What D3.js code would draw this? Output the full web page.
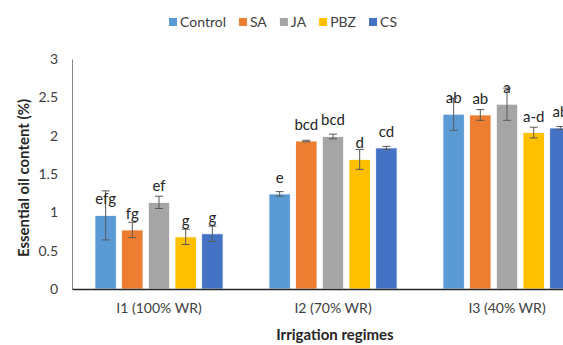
<!DOCTYPE html>
<html>
<head>
<meta charset="utf-8">
<script src="https://cdn.jsdelivr.net/npm/d3@7"></script>
<style>
  body { margin: 0; background: #fff; }
  text { font-family: Lato, "Open Sans", sans-serif; }
</style>
</head>
<body>
<svg width="563" height="345"></svg>
<script>
// data
const regimes = ["I1 (100% WR)", "I2 (70% WR)", "I3 (40% WR)"];
const treatments = ["Control", "SA", "JA", "PBZ", "CS"];
const colors = ["#5b9bd5", "#ed7d31", "#a5a5a5", "#ffc000", "#4472c4"];
const yTicks = [0, 0.5, 1, 1.5, 2, 2.5, 3];

// rows = regime, cols = treatment
const means = [
  [0.96, 0.77, 1.13, 0.68, 0.72],
  [1.24, 1.93, 1.99, 1.69, 1.84],
  [2.28, 2.27, 2.41, 2.04, 2.10]
];
const errs = [
  [0.32, 0.10, 0.08, 0.10, 0.10],
  [0.03, 0.01, 0.03, 0.13, 0.02],
  [0.21, 0.07, 0.21, 0.07, 0.02]
];
const letters = [
  ["efg", "fg", "ef", "g", "g"],
  ["e", "bcd", "bcd", "d", "cd"],
  ["ab", "ab", "a", "a-d", "ab"]
];

const svg = d3.select("svg");
const mLeft = 72, mTop = 59, mBottom = 289;

const y = d3.scaleLinear().domain([0, 3]).range([mBottom, mTop]);

// the right group runs off the edge of the picture
const x0 = d3.scaleBand().domain(regimes).range([mLeft, mLeft + 3 * 174]);
const x1 = d3.scaleBand()
  .domain(treatments)
  .range([0, x0.bandwidth()])
  .paddingInner(0.2)
  .paddingOuter(0.86);

// y axis labels
const yAxis = svg.append("g")
  .attr("transform", `translate(${mLeft},0)`)
  .call(d3.axisLeft(y).tickValues(yTicks).tickSize(0).tickPadding(14).tickFormat(d3.format("")));
yAxis.select(".domain").attr("stroke", "#868686");
yAxis.selectAll("text").attr("font-size", 14).attr("fill", "#404040").attr("font-family", "Lato");

// bars
const rows = [];
regimes.forEach((r, i) => treatments.forEach((t, j) => {
  rows.push({ r, t, j, v: means[i][j], e: errs[i][j], lab: letters[i][j] });
}));

const g = svg.append("g");
g.selectAll("rect")
  .data(rows)
  .enter()
  .append("rect")
  .attr("x", (d) => x0(d.r) + x1(d.t))
  .attr("y", (d) => y(d.v))
  .attr("width", x1.bandwidth())
  .attr("height", (d) => y(0) - y(d.v))
  .attr("fill", (d) => colors[d.j])
  .attr("stroke", "#fff")
  .attr("stroke-width", 0.8);

// error bars
const eb = g.selectAll(".eb").data(rows).enter().append("g").attr("class", "eb")
  .attr("stroke", "#595959").attr("stroke-width", 1);
const cx = (d) => x0(d.r) + x1(d.t) + x1.bandwidth() / 2;
eb.append("line")
  .attr("x1", cx).attr("x2", cx)
  .attr("y1", (d) => y(d.v + d.e)).attr("y2", (d) => y(d.v - d.e));
eb.append("line")
  .attr("x1", (d) => cx(d) - 4).attr("x2", (d) => cx(d) + 4)
  .attr("y1", (d) => y(d.v + d.e)).attr("y2", (d) => y(d.v + d.e));
eb.append("line")
  .attr("x1", (d) => cx(d) - 4).attr("x2", (d) => cx(d) + 4)
  .attr("y1", (d) => y(d.v - d.e)).attr("y2", (d) => y(d.v - d.e));

// significance letters
g.selectAll(".lab")
  .data(rows)
  .enter()
  .append("text")
  .attr("x", cx)
  .attr("y", (d) => y(d.v) - 11)
  .attr("text-anchor", "middle")
  .attr("font-size", 15)
  .attr("fill", "#262626")
  .text((d) => d.lab);

// baseline
const xAxis = svg.append("g")
  .attr("transform", `translate(0,${mBottom})`)
  .call(d3.axisBottom(x0).tickSize(0).tickPadding(14));
xAxis.select(".domain").attr("stroke", "#262626").attr("stroke-width", 1.3);
xAxis.selectAll("text").attr("font-size", 14).attr("fill", "#404040").attr("font-family", "Lato");

// axis titles
svg.append("text")
  .attr("x", 335).attr("y", 340)
  .attr("text-anchor", "middle")
  .attr("font-size", 15).attr("font-weight", "bold").attr("fill", "#262626")
  .text("Irrigation regimes");

svg.append("text")
  .attr("transform", "translate(29,178) rotate(-90)")
  .attr("text-anchor", "middle")
  .attr("font-size", 15).attr("font-weight", "bold").attr("fill", "#262626")
  .text("Essential oil content (%)");

// legend, laid out from measured text widths and centred
const lg = svg.append("g");
const items = lg.selectAll("g").data(treatments).enter().append("g");
items.append("rect").attr("width", 8).attr("height", 8).attr("y", -9).attr("fill", (d, i) => colors[i]);
items.append("text").attr("x", 11).attr("font-size", 14).attr("fill", "#404040").text((d) => d);
let pos = 0;
items.each(function () {
  const w = this.querySelector("text").getComputedTextLength();
  d3.select(this).attr("transform", `translate(${pos},0)`);
  pos += 11 + w + 13;
});
lg.attr("transform", `translate(${283 - (pos - 13) / 2},27)`);
</script>
</body>
</html>
